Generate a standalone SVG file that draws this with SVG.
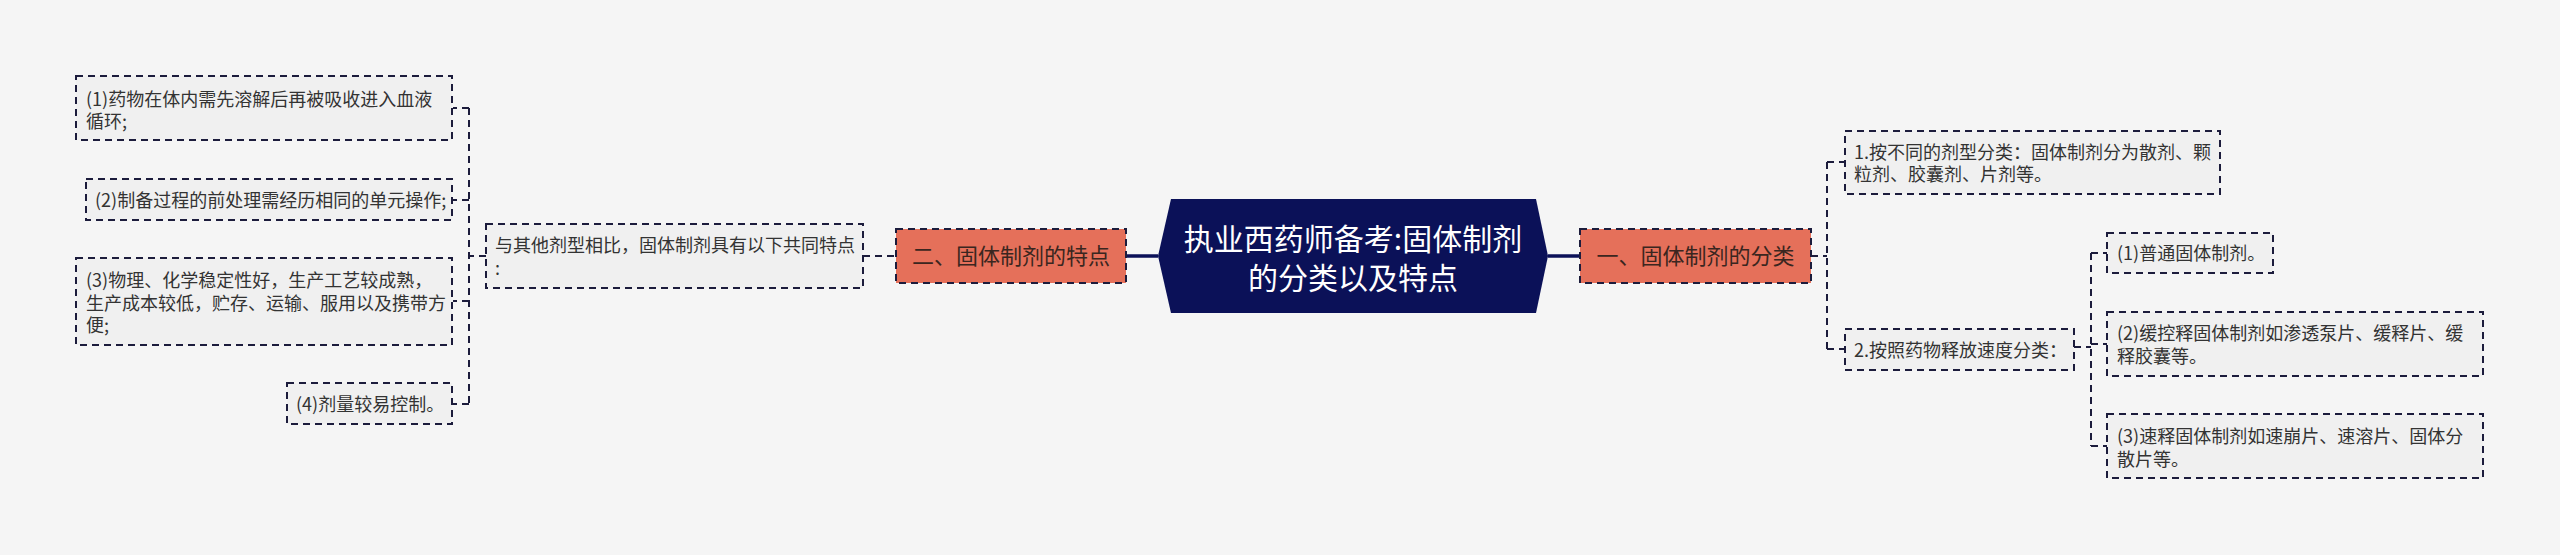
<svg xmlns="http://www.w3.org/2000/svg" width="2560" height="555" viewBox="0 0 2560 555">
<style>
.leaf{fill:#f0f0f0;stroke:#1c1c3c;stroke-width:2;stroke-dasharray:7 5}
.main{fill:#e5705a;stroke:#1c1c3c;stroke-width:2;stroke-dasharray:7 5}
.t{font-family:"Noto Sans CJK SC","Noto Sans",sans-serif;font-size:18px;fill:#333333}
.mt{font-family:"Noto Sans CJK SC","Noto Sans",sans-serif;font-size:22px;fill:#3a2620;text-anchor:middle}
.ct{font-family:"Noto Sans CJK SC","Noto Sans",sans-serif;font-size:30px;fill:#ffffff;text-anchor:middle}
.c{fill:none;stroke:#1c1c3c;stroke-width:2;stroke-dasharray:7 5}
.cs{fill:none;stroke:#0b1158;stroke-width:3.5}
</style>
<rect width="2560" height="555" fill="#f5f5f5"/>
<g id="connectors">
<path class="cs" d="M1126 256 H1158"/>
<path class="cs" d="M1548 256 H1580"/>
<path class="c" d="M863 256 H896"/>
<path class="c" d="M486 256 H469"/>
<path class="c" d="M469 108 V404"/>
<path class="c" d="M469 108 H453"/>
<path class="c" d="M469 200 H453"/>
<path class="c" d="M469 301 H453"/>
<path class="c" d="M469 404 H453"/>
<path class="c" d="M1811 256 H1827"/>
<path class="c" d="M1827 162 V349"/>
<path class="c" d="M1827 162 H1845"/>
<path class="c" d="M1827 349 H1845"/>
<path class="c" d="M2074 347 H2091"/>
<path class="c" d="M2091 253 V446"/>
<path class="c" d="M2091 253 H2107"/>
<path class="c" d="M2091 344 H2107"/>
<path class="c" d="M2091 446 H2107"/>
</g>
<g id="center">
<polygon points="1171,199 1536,199 1548,256 1536,313 1171,313 1158,256" fill="#0b1158"/>
<text class="ct" x="1353" y="250">执业西药师备考:固体制剂</text>
<text class="ct" x="1353" y="289">的分类以及特点</text>
</g>
<g id="main-left">
<rect class="main" x="896" y="229" width="230" height="54"/>
<text class="mt" x="1011" y="264">二、固体制剂的特点</text>
</g>
<g id="main-right">
<rect class="main" x="1580" y="229" width="231" height="54"/>
<text class="mt" x="1695.5" y="264">一、固体制剂的分类</text>
</g>
<g id="sub-left">
<rect class="leaf" x="486" y="224" width="377" height="64"/>
<text class="t" x="495" y="251.5">与其他剂型相比，固体制剂具有以下共同特点</text>
<text class="t" x="495" y="274.5">:</text>
</g>
<g id="leaf-1">
<rect class="leaf" x="76" y="76" width="376" height="64"/>
<text class="t" x="86" y="105.5">(1)药物在体内需先溶解后再被吸收进入血液</text>
<text class="t" x="86" y="127.5">循环;</text>
</g>
<g id="leaf-2">
<rect class="leaf" x="86" y="179" width="366" height="41"/>
<text class="t" x="95" y="206.5">(2)制备过程的前处理需经历相同的单元操作;</text>
</g>
<g id="leaf-3">
<rect class="leaf" x="76" y="258" width="376" height="87"/>
<text class="t" x="86" y="287">(3)物理、化学稳定性好，生产工艺较成熟，</text>
<text class="t" x="86" y="309.5">生产成本较低，贮存、运输、服用以及携带方</text>
<text class="t" x="86" y="332">便;</text>
</g>
<g id="leaf-4">
<rect class="leaf" x="287" y="383" width="165" height="41"/>
<text class="t" x="296" y="410.5">(4)剂量较易控制。</text>
</g>
<g id="sub-right-1">
<rect class="leaf" x="1845" y="131" width="375" height="63"/>
<text class="t" x="1854" y="158.5">1.按不同的剂型分类：固体制剂分为散剂、颗</text>
<text class="t" x="1854" y="181">粒剂、胶囊剂、片剂等。</text>
</g>
<g id="sub-right-2">
<rect class="leaf" x="1845" y="329" width="229" height="41"/>
<text class="t" x="1854" y="356.5">2.按照药物释放速度分类：</text>
</g>
<g id="leaf-r1">
<rect class="leaf" x="2107" y="233" width="166" height="40"/>
<text class="t" x="2117" y="259.5">(1)普通固体制剂。</text>
</g>
<g id="leaf-r2">
<rect class="leaf" x="2107" y="312" width="376" height="64"/>
<text class="t" x="2117" y="339.5">(2)缓控释固体制剂如渗透泵片、缓释片、缓</text>
<text class="t" x="2117" y="363">释胶囊等。</text>
</g>
<g id="leaf-r3">
<rect class="leaf" x="2107" y="414" width="376" height="64"/>
<text class="t" x="2117" y="443">(3)速释固体制剂如速崩片、速溶片、固体分</text>
<text class="t" x="2117" y="465.5">散片等。</text>
</g>
</svg>
